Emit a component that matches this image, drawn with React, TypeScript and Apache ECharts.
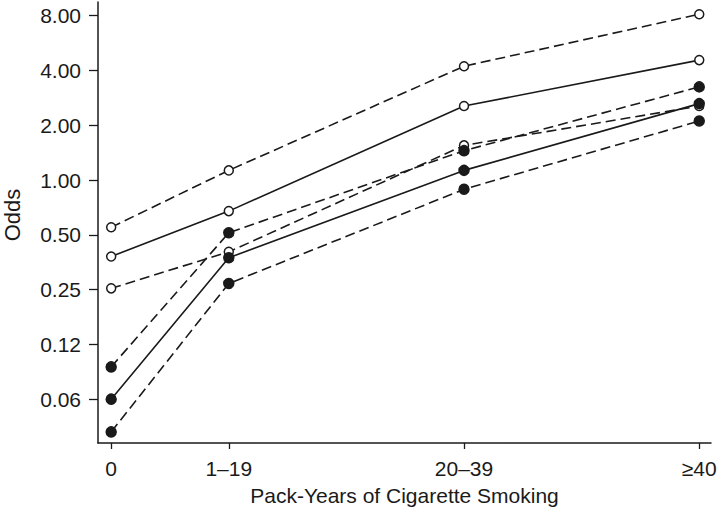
import React, { useEffect, useRef } from "react";
import * as echarts from "echarts";

const categories = ["0", "1–19", "20–39", "≥40"];
const xPositions = [0, 10, 30, 50];
const yTickExponents = [-4, -3, -2, -1, 0, 1, 2, 3];
const yTickLabels = ["0.06", "0.12", "0.25", "0.50", "1.00", "2.00", "4.00", "8.00"];
const yTitle = "Odds";
const xTitle = "Pack-Years of Cigarette Smoking";

const openUpper = [0.55, 1.13, 4.22, 8.15];
const openEstimate = [0.38, 0.675, 2.55, 4.56];
const openLower = [0.254, 0.403, 1.55, 2.55];
const filledUpper = [0.094, 0.513, 1.45, 3.25];
const filledEstimate = [0.0625, 0.374, 1.13, 2.63];
const filledLower = [0.0413, 0.27, 0.89, 2.11];

const INK = "#1a1a1a";

function makeSeries(name: string, values: number[], filled: boolean, dashed: boolean) {
  return {
    name,
    type: "line",
    data: values.map((v, i) => [xPositions[i], Math.log2(v)]),
    symbol: "circle",
    symbolSize: filled ? 10 : 9,
    showSymbol: true,
    lineStyle: {
      color: INK,
      width: 1.6,
      type: dashed ? [10, 5] : "solid",
    },
    itemStyle: {
      color: filled ? INK : "#ffffff",
      borderColor: INK,
      borderWidth: 1.5,
    },
    z: filled ? 3 : 2,
  };
}

export default function App() {
  const ref = useRef<HTMLDivElement>(null);
  useEffect(() => {
    if (!ref.current) return;
    const chart = echarts.init(ref.current, null, { renderer: "svg" });
    const font = "'Liberation Sans', Arial, Helvetica, sans-serif";
    chart.setOption({
      animation: false,
      backgroundColor: "#ffffff",
      grid: { left: 98, right: 9, top: 2, bottom: 79 },
      graphic: [
        {
          type: "text",
          x: 12,
          y: 215,
          rotation: Math.PI / 2,
          style: {
            text: yTitle,
            fontFamily: font,
            fontSize: 22,
            fill: INK,
            align: "center",
            verticalAlign: "middle",
          },
        },
      ],
      xAxis: {
        type: "value",
        min: -1.12,
        max: 51,
        name: xTitle,
        nameLocation: "middle",
        nameGap: 42,
        nameTextStyle: { fontFamily: font, fontSize: 21, color: INK },
        axisLine: { show: true, onZero: false, lineStyle: { color: INK, width: 1.5 } },
        axisTick: {
          show: true,
          length: 6,
          lineStyle: { color: INK, width: 1.3 },
          customValues: xPositions,
        },
        axisLabel: {
          fontFamily: font,
          fontSize: 21,
          color: INK,
          margin: 15,
          customValues: xPositions,
          formatter: (v: number) => {
            const i = xPositions.indexOf(v);
            return i >= 0 ? categories[i] : "";
          },
        },
        splitLine: { show: false },
      },
      yAxis: {
        type: "value",
        min: -4.8,
        max: 3.25,
        axisLine: { show: true, onZero: false, lineStyle: { color: INK, width: 1.5 } },
        axisTick: {
          show: true,
          length: 9,
          lineStyle: { color: INK, width: 1.3 },
          customValues: yTickExponents,
        },
        axisLabel: {
          fontFamily: font,
          fontSize: 21,
          color: INK,
          margin: 17,
          customValues: yTickExponents,
          formatter: (v: number) => {
            const i = yTickExponents.indexOf(v);
            return i >= 0 ? yTickLabels[i] : "";
          },
        },
        splitLine: { show: false },
      },
      series: [
        makeSeries("openUpper", openUpper, false, true),
        makeSeries("openEstimate", openEstimate, false, false),
        makeSeries("openLower", openLower, false, true),
        makeSeries("filledUpper", filledUpper, true, true),
        makeSeries("filledEstimate", filledEstimate, true, false),
        makeSeries("filledLower", filledLower, true, true),
      ],
    });
    return () => chart.dispose();
  }, []);
  return (
    <div
      ref={ref}
      style={{ position: "fixed", left: 0, top: 0, width: 720, height: 522, background: "#fff" }}
    />
  );
}
